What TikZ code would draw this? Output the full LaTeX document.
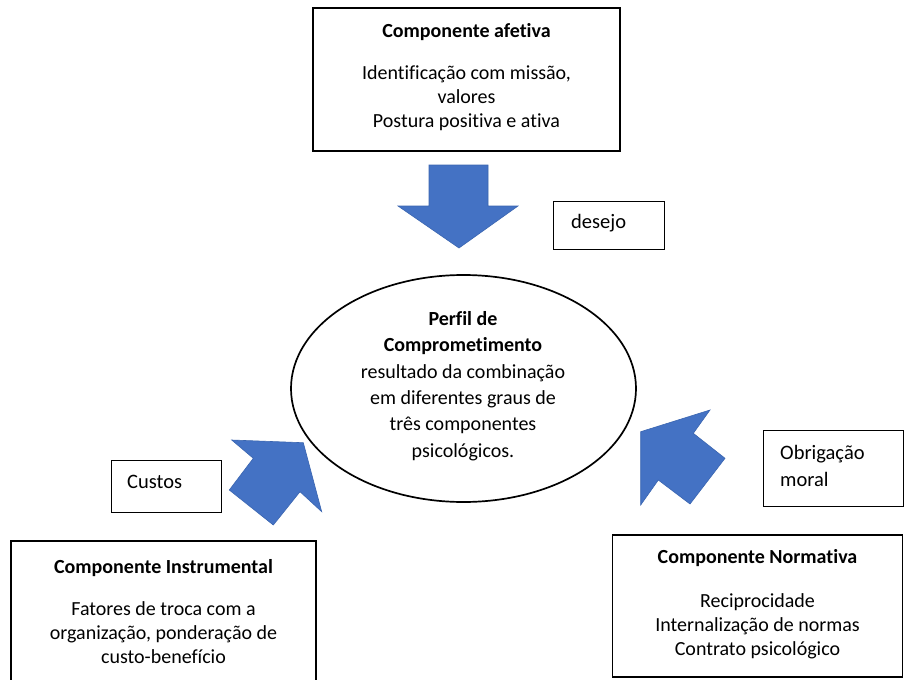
\documentclass[tikz,border=0pt]{standalone}
\usepackage{fontspec}
\setmainfont{Carlito}[Ligatures=NoCommon]
\usetikzlibrary{shapes.geometric}
\definecolor{arrowblue}{HTML}{4472C4}
\definecolor{arrowedge}{HTML}{3A65B0}
\begin{document}
\begin{tikzpicture}[x=1pt,y=-1pt,
  bigbox/.style={draw=black, line width=1.8pt, rectangle, inner sep=0pt},
  smallbox/.style={draw=black, line width=0.9pt, rectangle, inner sep=0pt},
  body/.style={font=\fontsize{20}{24}\selectfont, align=center, inner sep=0pt},
  ttl/.style={font=\fontsize{20}{24}\selectfont\bfseries, inner sep=0pt},
  lbl/.style={font=\fontsize{20.5}{27}\selectfont, align=left, inner sep=0pt, anchor=west},
  blockarrow/.style={fill=arrowblue, draw=arrowedge, line width=0.6pt, line join=miter}
]
\useasboundingbox (0,0) rectangle (905,680);
\fill[white] (0,0) rectangle (905,680);

% top box
\node[bigbox, minimum width=307pt, minimum height=143pt] (afetiva) at (466.5,79.5) {};
\node[ttl] (afetivaT) at (466.5,32) {Componente afetiva};
\node[body] (afetivaB) at (466.5,98) {Identificação com missão,\\valores\\Postura positiva e ativa};

% central ellipse
\node[ellipse, draw=black, line width=1.7pt, minimum width=345pt, minimum height=227pt, inner sep=0pt] (perfil) at (463.5,388.5) {};
\node[font=\fontsize{20}{26.4}\selectfont, align=center, inner sep=0pt] (perfilT) at (463,386)
  {\textbf{Perfil de}\\\textbf{Comprometimento}\\resultado da combinação\\em diferentes graus de\\três componentes\\psicológicos.};

% bottom-left box
\node[bigbox, minimum width=305pt, minimum height=150pt] (instr) at (163.5,616) {};
\node[ttl] (instrT) at (163.5,568) {Componente Instrumental};
\node[body] (instrB) at (163.5,633) {Fatores de troca com a\\organização, ponderação de\\custo-benefício};

% bottom-right box
\node[bigbox, minimum width=290pt, minimum height=142pt] (norm) at (757.5,606) {};
\node[ttl] (normT) at (757.5,558) {Componente Normativa};
\node[body] (normB) at (757.5,626) {Reciprocidade\\Internalização de normas\\Contrato psicológico};

% label boxes
\node[smallbox, minimum width=111pt, minimum height=48pt] (desejo) at (609,225) {};
\node[lbl] (desejoT) at (571,223) {desejo};
\node[smallbox, minimum width=110pt, minimum height=52pt] (custos) at (166,486) {};
\node[lbl] (custosT) at (127,482) {Custos};
\node[smallbox, minimum width=140pt, minimum height=76pt] (obrig) at (833,468) {};
\node[lbl] (obrigT) at (780,466) {Obrigação\\moral};

% block arrows
\draw[blockarrow] (429,165) -- (488,165) -- (488,206) -- (518,206) -- (459,248) -- (398,206) -- (429,206) -- cycle;
\draw[blockarrow] (303.3,442.7) -- (321.7,511.7) -- (300,491.7) -- (273.3,525) -- (229.3,490) -- (253.3,458.3) -- (231.7,440) -- cycle;
\draw[blockarrow] (640.7,431.7) -- (710,410) -- (693.3,433.3) -- (725,458.3) -- (690,504) -- (658.3,480) -- (640.7,505) -- cycle;
\end{tikzpicture}
\end{document}
